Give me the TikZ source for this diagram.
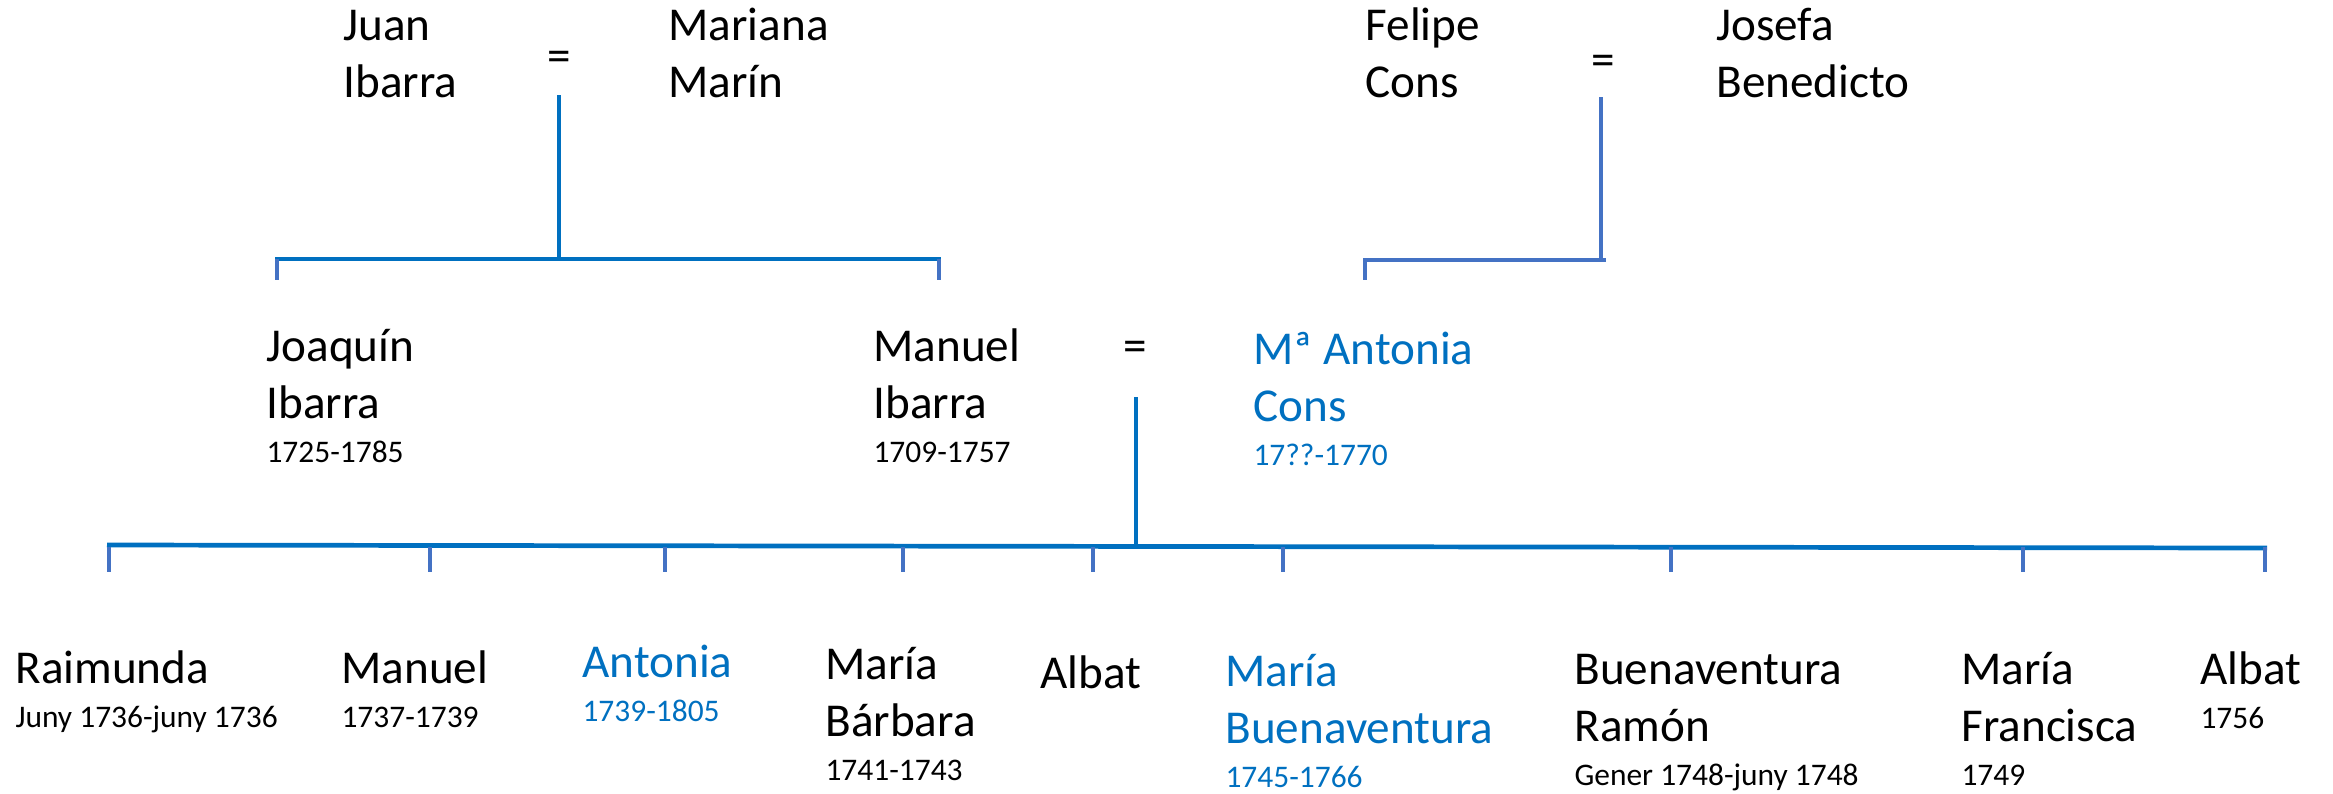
\documentclass[tikz,border=0pt]{standalone}
\usepackage{fontspec}
\setmainfont{Carlito}
\usepackage{tikz}
\usetikzlibrary{positioning}
\definecolor{lineblue}{HTML}{0070C0}
\definecolor{tickblue}{HTML}{4472C4}
\newcommand\yrs[1]{\\[-5pt]{\fontsize{12}{14}\selectfont #1}}

\begin{document}
\begin{tikzpicture}[x=0.3817pt,y=-0.3817pt,
  person/.style={anchor=base west,align=left,inner sep=0pt,font=\fontsize{18}{21.6}\selectfont},
  eqsign/.style={anchor=base,inner sep=0pt,font=\fontsize{18}{21.6}\selectfont},
  famline/.style={lineblue,line width=1.8pt},
  tickline/.style={tickblue,line width=1.8pt}]
\useasboundingbox (0,0) rectangle (2333,793);

% grandparents (placed at the baseline of the last line)
\node[person] (juan) at (343,97) {Juan\\Ibarra};
\node[eqsign] (eqA) at (559,71) {=};
\node[person] (mariana) at (668,97) {Mariana\\Marín};
\node[person] (felipe) at (1365,97) {Felipe\\Cons};
\node[eqsign] (eqB) at (1603,75) {=};
\node[person] (josefa) at (1716,97) {Josefa\\Benedicto};

% parents
\node[person] (joaquin) at (266,462) {Joaquín\\Ibarra\yrs{1725-1785}};
\node[person] (manuel) at (873,462) {Manuel\\Ibarra\yrs{1709-1757}};
\node[eqsign] (eqC) at (1135,361) {=};
\node[person,lineblue] (mantonia) at (1253,465) {Mª Antonia\\Cons\yrs{17??-1770}};

% children
\node[person] (raimunda) at (15,727) {Raimunda\yrs{Juny 1736-juny 1736}};
\node[person] (manuelB) at (341,727) {Manuel\yrs{1737-1739}};
\node[person,lineblue] (antonia) at (582,721) {Antonia\yrs{1739-1805}};
\node[person] (mbarbara) at (825,780) {María\\Bárbara\yrs{1741-1743}};
\node[person] (albatA) at (1040,688) {Albat};
\node[person,lineblue] (mbuenav) at (1225,787) {María\\Buenaventura\yrs{1745-1766}};
\node[person] (bramon) at (1574,785) {Buenaventura\\Ramón\yrs{Gener 1748-juny 1748}};
\node[person] (mfrancisca) at (1961,785) {María\\Francisca\yrs{1749}};
\node[person] (albatB) at (2200,728) {Albat\yrs{1756}};

% Ibarra - Marin
\draw[famline] (559,95) coordinate (jA) -- (559,259) coordinate (kA);
\draw[famline] (275,259) coordinate (kA1) -- (941,259) coordinate (kA2);
\draw[tickline] (277,259) -- (277,280);
\draw[tickline] (939,259) -- (939,280);

% Cons - Benedicto
\draw[tickline] (1601,97) coordinate (jB) -- (1601,260) coordinate (kB);
\draw[tickline] (1606,260) -- (1363,260) coordinate (kB1);
\draw[tickline] (1365,260) -- (1365,280);

% Ibarra - Cons
\draw[famline] (1136,397) coordinate (jC) -- (1136,546) coordinate (kC);
\draw[famline] (107,545) coordinate (kC1) -- (2267,548) coordinate (kC2);
\foreach \x in {109,430,665,903,1093,1283,1671,2023,2265}
  \draw[tickline] (\x,547) -- (\x,572);
\end{tikzpicture}
\end{document}
